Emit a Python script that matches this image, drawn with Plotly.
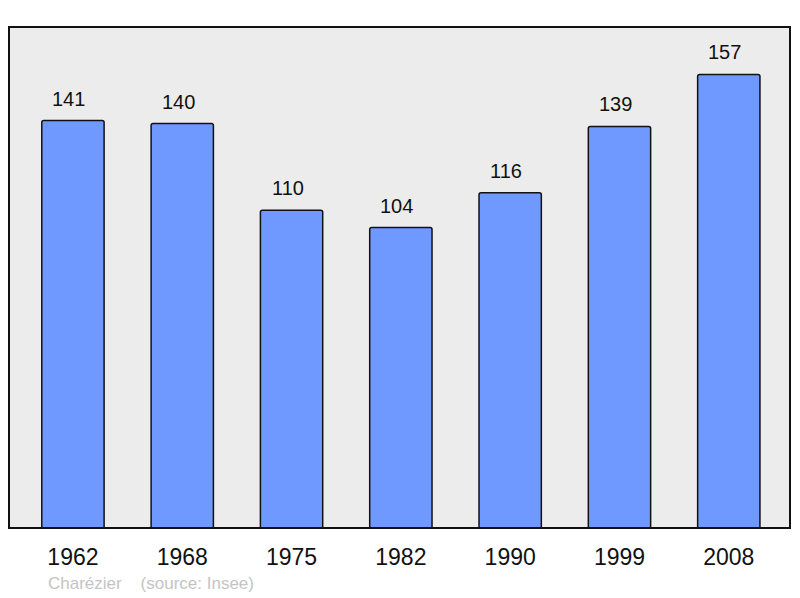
import plotly.graph_objects as go

years = ["1962", "1968", "1975", "1982", "1990", "1999", "2008"]
population = [141, 140, 110, 104, 116, 139, 157]
commune = "Charézier"
source = "(source: Insee)"

FONT = "Liberation Sans, Arial, sans-serif"

fig = go.Figure()
fig.add_trace(go.Bar(
    x=years,
    y=population,
    width=0.57,
    marker=dict(color="#7099ff", line=dict(color="#111111", width=1.5), cornerradius=2),
    hoverinfo="x+y",
))

# value labels above each bar (x given as category index)
for i, val in enumerate(population):
    fig.add_annotation(
        x=i, y=val, text=str(val), showarrow=False,
        xref="x", yref="y",
        yanchor="bottom", yshift=9, xshift=-4,
        font=dict(family=FONT, size=20, color="#111111"),
    )

fig.add_annotation(
    xref="paper", yref="paper", x=0.048, y=-0.087,
    xanchor="left", yanchor="top", showarrow=False,
    text=f"{commune}&nbsp;&nbsp;&nbsp;&nbsp;{source}",
    font=dict(family=FONT, size=17, color="#c4c4c4"),
)

# frame around plot area
fig.add_shape(
    type="rect", xref="paper", yref="paper", x0=0, y0=0, x1=1, y1=1,
    line=dict(color="#111111", width=2), layer="above",
)

# the page body has an 8px margin, so the figure is offset by that much
fig.update_layout(
    width=800, height=598,
    margin=dict(l=1, r=18, t=19, b=78),
    paper_bgcolor="white",
    plot_bgcolor="#ececec",
    showlegend=False,
)
fig.update_xaxes(
    type="category",
    range=[-0.585, 6.56],
    showgrid=False, zeroline=False,
    ticks="outside", ticklen=8, tickcolor="rgba(0,0,0,0)",
    tickfont=dict(family=FONT, size=23, color="#111111"),
)
fig.update_yaxes(
    range=[0, 173.4], showgrid=False, zeroline=False,
    showticklabels=False,
)

fig.write_html("out.html")
